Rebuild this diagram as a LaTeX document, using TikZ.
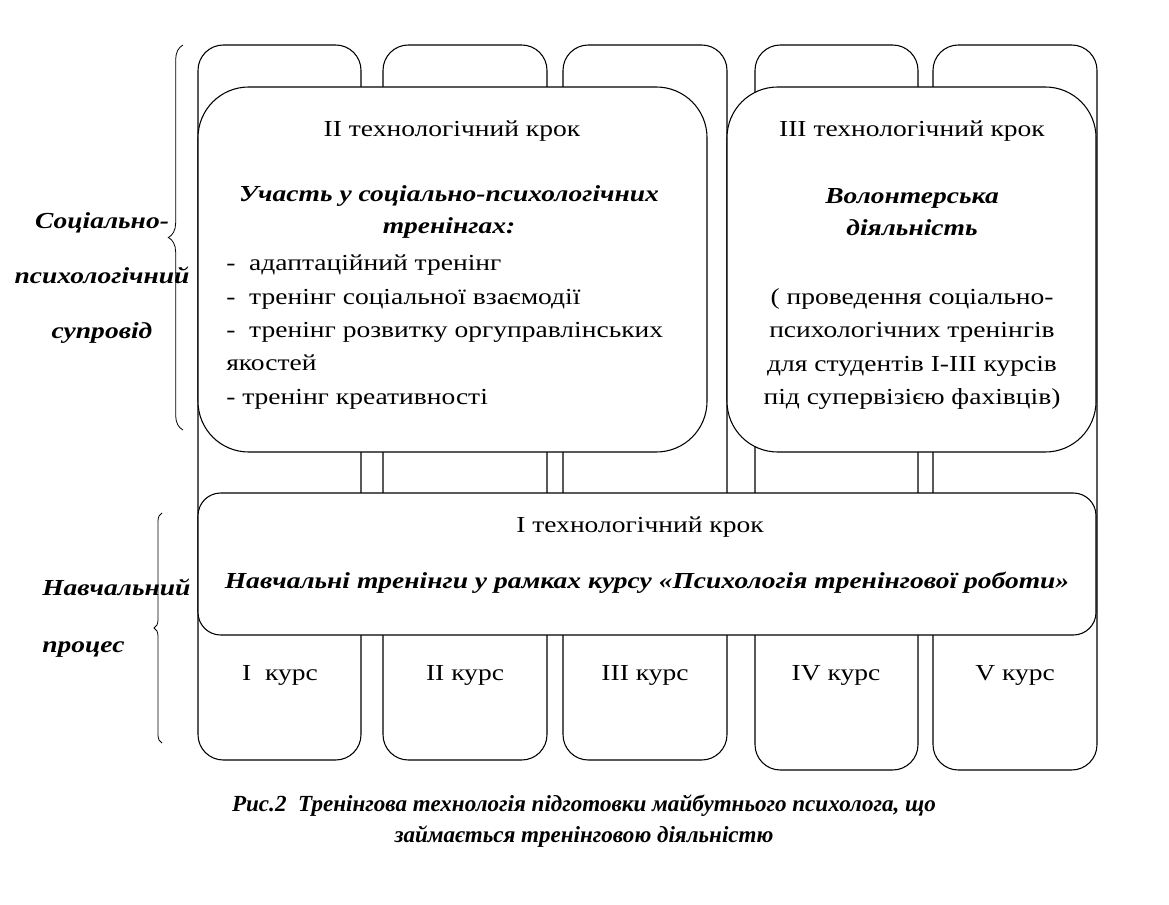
\documentclass[tikz,border=0pt]{standalone}
\usepackage{fontspec}
\setmainfont{Liberation Serif}
\newfontfamily\diafont{Liberation Serif}[FakeStretch=1.2]
\newfontfamily\capfont{Liberation Serif}
\usetikzlibrary{positioning,decorations.pathreplacing}

\begin{document}
\begin{tikzpicture}[
		x=0.75pt, y=-0.75pt,
		colbox/.style={draw, fill=white, line width=0.8pt, rounded corners=19pt},
		bigstep/.style={draw, fill=white, line width=0.8pt, rounded corners=38pt},
		widestep/.style={draw, fill=white, line width=0.8pt, rounded corners=17pt},
		lbl/.style={font=\diafont\fontsize{17.2}{25}\selectfont, inner sep=0pt},
		head/.style={font=\diafont\fontsize{17.2}{24}\selectfont\bfseries\itshape, inner sep=0pt},
		curly/.style={decorate, line width=0.6pt},
	]
		\useasboundingbox (0,0) rectangle (1169,905);
		% course columns
		\foreach \l/\r/\b in {198/361/760, 383/547/760, 563/727/760, 755/918/770, 933/1097/770}
			\draw[colbox] (\l,45) rectangle (\r,\b);
		\node[lbl] (kurs1) at (280,675) {I\ \ курс};
		\node[lbl] (kurs2) at (465,675) {II курс};
		\node[lbl] (kurs3) at (645,675) {III курс};
		\node[lbl] (kurs4) at (836,675) {IV курс};
		\node[lbl] (kurs5) at (1015,675) {V курс};
		
		% steps
		\draw[bigstep] (198,87) rectangle (707,452);
		\draw[bigstep] (727,87) rectangle (1096,452);
		\draw[widestep] (198,493) rectangle (1096,635);
		
		\node[lbl] (step2) at (452,131) {II технологічний крок};
		\node[head, align=center] (train) at (449,212) {Участь у соціально-психологічних\\тренінгах:};
		\node[lbl, align=left, anchor=west] (trainlist) at (226,332) {-\ \ адаптаційний тренінг\\-\ \ тренінг соціальної взаємодії\\-\ \ тренінг розвитку оргуправлінських\\якостей\\- тренінг креативності};
		
		\node[lbl] (step3) at (912,131) {III технологічний крок};
		\node[head, align=center] (volunt) at (912,212) {Волонтерська\\діяльність};
		\node[lbl, align=center] (voluntnote) at (912,349) {( проведення соціально-\\психологічних тренінгів\\для студентів I-III курсів\\під супервізією фахівців)};
		
		\node[lbl] (step1) at (640,527) {I технологічний крок};
		\node[head] (course) at (647,583) {Навчальні тренінги у рамках курсу «Психологія тренінгової роботи»};
		
		% side labels
		\node[head, align=center, font=\diafont\fontsize{17.2}{41}\selectfont\bfseries\itshape] (social) at (102,278) {Соціально-\\психологічний\\супровід};
		\node[head, align=left, anchor=west, font=\diafont\fontsize{17.2}{43}\selectfont\bfseries\itshape] (learn) at (42,618) {Навчальний\\процес};
		\draw[curly, decoration={brace, amplitude=11pt}] (183,430) -- (183,45);
		\draw[curly, decoration={brace, amplitude=6pt}] (162,743) -- (162,513);
		
		\node[head, align=center, font=\capfont\fontsize{17.3}{23}\selectfont\bfseries\itshape] (caption) at (584,821) {Рис.2\ \ Тренінгова технологія підготовки майбутнього психолога, що\\займається тренінговою діяльністю};
	\end{tikzpicture}
\end{document}
